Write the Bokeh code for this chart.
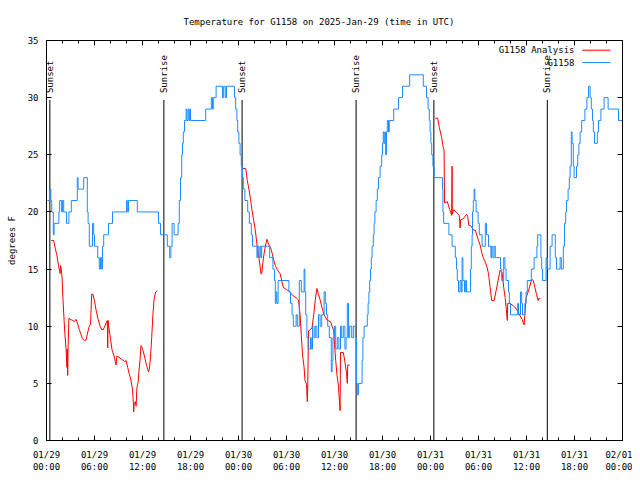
import math
from bokeh.plotting import figure
from bokeh.models import FixedTicker, LinearAxis, Label, Arrow, Range1d
from bokeh.core.properties import value
from bokeh.embed import file_html
from bokeh.resources import INLINE

title_text = "Temperature for G1158 on 2025-Jan-29 (time in UTC)"
y_label = "degrees F"

# hours since 2025-01-29 00:00 UTC
x_tick_hours = [0, 6, 12, 18, 24, 30, 36, 42, 48, 54, 60, 66, 72]
x_tick_labels = ["01/29\n00:00", "01/29\n06:00", "01/29\n12:00", "01/29\n18:00",
                 "01/30\n00:00", "01/30\n06:00", "01/30\n12:00", "01/30\n18:00",
                 "01/31\n00:00", "01/31\n06:00", "01/31\n12:00", "01/31\n18:00",
                 "02/01\n00:00"]
x_minor_hours = [2, 4, 8, 10, 14, 16, 20, 22, 26, 28, 32, 34, 38, 40, 44, 46,
                 50, 52, 56, 58, 62, 64, 68, 70]
y_ticks = [0, 5, 10, 15, 20, 25, 30, 35]

event_hours = [0.42, 14.67, 24.45, 38.7, 48.42, 62.6]
event_labels = ["Sunset", "Sunrise", "Sunset", "Sunrise", "Sunset", "Sunrise"]
event_line_top = 29.8
event_label_y = 30.4

series_names = ["G1158 Analysis", "G1158"]

# observed G1158 (stepped)
obs_hours = [0.1, 0.4, 0.55, 0.65, 0.85, 0.95, 1.55, 1.65, 1.9, 2.0, 2.15, 2.5, 2.8, 3.1,
             3.85, 3.95, 4.65, 5.1, 5.2, 5.35, 5.75, 5.9, 6.0, 6.4, 6.6, 6.75, 6.9, 7.0,
             7.15, 7.75, 8.25, 10.0, 10.1, 10.25, 11.35, 14.0, 14.25, 15.1, 15.4, 15.55,
             15.7, 15.95, 16.45, 16.6, 16.75, 16.9, 17.0, 17.1, 17.25, 17.45, 17.55, 17.7,
             17.8, 17.9, 18.0, 19.9, 20.6, 20.75, 20.85, 21.2, 22.0, 22.15, 22.35, 22.5,
             23.5, 23.65, 23.8, 23.9, 24.05, 24.2, 24.35, 24.5, 24.6, 24.8, 25.15, 25.35,
             25.6, 25.75, 26.3, 26.4, 26.55, 26.7, 26.8, 26.9, 27.9, 28.3, 28.5, 28.6,
             28.7, 28.8, 28.95, 30.3, 30.5, 30.7, 30.85, 31.2, 31.35, 31.6, 31.85, 32.2,
             32.3, 32.4, 32.55, 32.7, 33.0, 33.1, 33.25, 33.45, 33.6, 33.8, 34.0, 34.2,
             34.4, 34.7, 34.85, 35.0, 35.15, 35.35, 35.6, 35.7, 35.8, 36.0, 36.15, 36.35,
             36.55, 36.75, 36.9, 37.1, 37.3, 37.45, 37.6, 37.75, 37.9, 38.15, 38.35, 38.6,
             38.75, 38.85, 39.0, 39.45, 39.55, 39.7, 40.1, 40.2, 40.3, 40.4, 40.5, 40.6,
             40.7, 40.85, 40.95, 41.05, 41.2, 41.35, 41.5, 41.7, 41.9, 42.0, 42.1, 42.2,
             42.3, 42.4, 42.5, 42.6, 42.75, 42.85, 43.4, 44.0, 44.5, 45.4, 47.1, 47.5,
             47.7, 47.85, 47.95, 48.05, 48.15, 48.3, 48.45, 49.5, 49.55, 49.65, 50.3, 50.7,
             51.1, 51.25, 51.35, 51.5, 51.7, 51.85, 51.95, 52.05, 52.25, 52.4, 52.5, 53.0,
             53.1, 53.2, 53.25, 53.35, 53.45, 53.55, 53.7, 53.95, 54.1, 54.45, 54.85, 55.0,
             55.25, 55.55, 55.65, 55.8, 55.95, 56.1, 56.75, 56.9, 57.15, 57.3, 57.45, 57.75,
             57.85, 58.0, 58.9, 59.0, 59.25, 59.4, 59.5, 59.8, 59.95, 60.1, 60.6, 60.95,
             61.3, 61.4, 61.8, 61.9, 62.0, 62.45, 62.6, 62.95, 63.2, 63.6, 63.75, 64.2,
             64.35, 64.6, 64.75, 64.9, 65.0, 65.2, 65.35, 65.45, 65.6, 65.7, 65.85, 65.95,
             66.25, 66.4, 66.55, 66.7, 66.9, 67.3, 67.55, 67.75, 67.95, 68.1, 68.25, 68.35,
             68.5, 68.85, 69.0, 69.3, 69.7, 70.2, 71.5, 72.0]
obs_temps = [21, 22, 21, 20, 18, 19, 20, 21, 20, 21, 20, 19, 20, 21,
             23, 22, 23, 20, 19, 17, 19, 18, 17, 16, 15, 16, 15, 17,
             18, 19, 20, 21, 20, 21, 20, 19, 18, 17, 16, 17,
             19, 18, 19, 21, 23, 25, 26, 27, 28, 29, 28, 29,
             28, 29, 28, 29, 30, 29, 30, 31, 30, 31, 30, 31,
             30, 29, 28, 27, 26, 25, 24, 23, 22, 21, 20, 19,
             18, 17, 16, 17, 16, 17, 16, 17, 16, 15, 14, 12,
             13, 12, 14, 13, 12, 11, 10, 11, 10, 14, 13, 15,
             13, 11, 9, 8, 9, 8, 10, 9, 10, 9, 11, 10,
             11, 13, 12, 11, 10, 9, 6, 7, 9, 10, 8, 9,
             8, 10, 9, 10, 8, 9, 12, 9, 10, 9, 10, 9,
             5, 4, 5, 7, 9, 10, 11, 12, 13, 14, 15, 16,
             17, 18, 19, 20, 21, 22, 23, 24, 25, 26, 27, 26,
             27, 25, 27, 28, 27, 28, 29, 30, 31, 32, 31, 30,
             29, 28, 27, 26, 25, 24, 23, 22, 20, 19, 18, 17,
             16, 15, 14, 13, 14, 13, 16, 14, 13, 14, 13, 15,
             17, 18, 20, 21, 22, 21, 20, 19, 18, 17, 19, 18,
             17, 16, 17, 16, 17, 16, 15, 14, 16, 15, 14, 13,
             12, 11, 12, 11, 13, 12, 11, 12, 13, 14, 15, 16,
             17, 18, 16, 15, 14, 16, 15, 17, 18, 16, 15, 16,
             15, 17, 19, 20, 21, 22, 23, 24, 27, 26, 24, 23,
             24, 25, 26, 27, 28, 29, 30, 31, 30, 29, 28, 27,
             26, 27, 28, 29, 30, 29, 28, 28]

# G1158 Analysis, three overnight segments
ana1_hours = [0.6, 0.9, 1.1, 1.3, 1.5, 1.7, 1.75, 1.85, 1.95, 2.05, 2.2, 2.3, 2.45, 2.55,
              2.6, 2.65, 2.7, 2.8, 2.95, 3.3, 3.5, 3.7, 3.9, 4.1, 4.3, 4.5, 4.75, 4.95,
              5.1, 5.3, 5.5, 5.65, 5.8, 6.0, 6.2, 6.45, 6.7, 6.9, 7.1, 7.35, 7.6, 7.65,
              7.7, 7.8, 8.0, 8.2, 8.45, 8.6, 8.7, 8.8, 9.0, 9.4, 9.8, 9.95, 10.15, 10.35,
              10.55, 10.75, 10.85, 10.9, 10.95, 11.1, 11.2, 11.3, 11.45, 11.55, 11.7, 11.8,
              11.9, 12.1, 12.3, 12.5, 12.75, 12.85, 13.0, 13.15, 13.3, 13.45, 13.65, 13.85]
ana1_temps = [17.5, 17.5, 16.8, 16.2, 15.3, 14.6, 15.3, 15.0, 14.2, 12.5, 10.5, 9.3, 8.0, 6.4,
              8.0, 5.7, 8.2, 10.7, 10.6, 10.5, 10.4, 10.6, 10.2, 9.7, 9.3, 8.9, 8.75, 8.8,
              9.3, 9.9, 10.2, 12.8, 12.8, 12.2, 11.4, 10.6, 10.0, 9.7, 9.7, 10.1, 10.5, 8.1,
              10.5, 9.9, 8.9, 7.9, 7.4, 6.9, 6.6, 7.4, 7.3, 7.1, 6.9, 7.0, 6.4, 5.8,
              5.3, 4.5, 3.3, 2.5, 3.2, 3.4, 3.0, 4.6, 5.1, 6.0, 7.1, 8.3,
              8.2, 7.8, 7.2, 6.6, 6.0, 6.2, 7.3, 9.0, 11.0, 12.4, 13.0, 13.1]
ana2_hours = [24.5, 24.9, 25.1, 25.3, 25.5, 25.7, 25.9, 26.1, 26.3, 26.5, 26.7, 26.8, 26.9,
              27.1, 27.3, 27.55, 27.75, 28.0, 28.2, 28.4, 28.6, 28.8, 29.2, 29.4, 29.6,
              30.0, 30.3, 30.75, 31.2, 31.5, 31.7, 31.85, 32.0, 32.2, 32.3, 32.5, 32.6,
              32.65, 32.75, 33.0, 33.2, 33.4, 33.6, 33.8, 34.0, 34.2, 34.45, 34.7, 35.1,
              35.5, 35.7, 35.9, 36.0, 36.15, 36.3, 36.5, 36.6, 36.7, 36.75, 37.1, 37.3,
              37.5, 37.6, 37.65, 37.9]
ana2_temps = [23.8, 23.8, 22.75, 22.0, 21.1, 20.1, 19.25, 18.4, 17.2, 16.3, 15.2, 14.6, 14.6,
              15.9, 16.8, 17.6, 17.2, 16.9, 16.4, 15.8, 15.3, 15.0, 14.6, 14.0, 13.4,
              13.2, 13.1, 12.7, 12.5, 12.3, 11.0, 9.2, 7.5, 6.4, 5.3, 4.9, 3.4,
              4.5, 9.6, 9.7, 9.9, 11.0, 12.3, 13.3, 12.8, 12.3, 11.6, 11.0, 10.5,
              10.4, 10.0, 9.6, 8.4, 7.0, 5.8, 4.7, 3.6, 2.6, 7.7, 7.7, 6.9,
              5.9, 5.0, 6.6, 6.6]
ana3_hours = [48.6, 48.9, 49.1, 49.4, 49.6, 49.7, 49.75, 50.1, 50.4, 50.65, 50.7, 50.72,
              50.9, 51.3, 51.6, 51.7, 51.75, 52.1, 52.5, 52.65, 52.8, 53.0, 53.4, 53.6,
              54.0, 54.2, 54.45, 54.6, 54.85, 55.05, 55.25, 55.45, 55.65, 55.95, 56.2,
              56.45, 56.7, 56.95, 57.15, 57.35, 57.45, 57.6, 57.65, 57.95, 58.5, 58.75,
              59.2, 59.45, 59.7, 59.95, 60.25, 60.45, 60.65, 60.85, 61.05, 61.25, 61.45,
              61.5, 61.75]
ana3_temps = [28.2, 28.2, 27.4, 26.5, 25.6, 25.4, 20.8, 20.9, 20.2, 19.7, 24.0, 19.8,
              20.2, 19.9, 19.7, 18.6, 19.3, 19.4, 19.8, 19.6, 18.8, 18.8, 18.4, 18.4,
              17.5, 17.1, 16.3, 16.0, 15.6, 15.2, 14.6, 13.4, 12.25, 12.25, 13.1,
              14.0, 14.9, 14.7, 13.4, 12.4, 11.7, 10.5, 12.0, 12.0, 11.7, 11.5,
              10.9, 10.6, 10.1, 12.5, 13.1, 13.6, 14.1, 14.0, 13.4, 12.8, 12.25,
              12.4, 12.4]

FONT = "DejaVu Sans Mono"
FS = "9px"
RED = "#ff0000"
BLUE = "#1e8cff"

p = figure(frame_width=576, frame_height=400,
           x_range=Range1d(0, 72), y_range=Range1d(0, 35),
           output_backend="svg", toolbar_location=None,
           title=title_text,
           min_border_left=46, min_border_right=10,
           min_border_top=40, min_border_bottom=32)
p.background_fill_color = "white"
p.border_fill_color = "white"
p.xgrid.visible = False
p.ygrid.visible = False
p.outline_line_color = "black"
p.outline_line_alpha = 1.0
p.outline_line_width = 1

p.title.text_font = FONT
p.title.text_font_size = FS
p.title.text_font_style = "normal"
p.title.text_color = "black"
p.title.align = "left"
p.title.offset = 137
p.title.standoff = 27

xt = FixedTicker(ticks=x_tick_hours, minor_ticks=x_minor_hours)
yt = FixedTicker(ticks=y_ticks, minor_ticks=[])

def style_axis(ax, show_labels):
    ax.axis_line_color = "black"
    ax.major_tick_in = 5
    ax.major_tick_out = 0
    ax.minor_tick_in = 3
    ax.minor_tick_out = 0
    ax.major_tick_line_color = "black"
    ax.minor_tick_line_color = "black"
    ax.major_label_text_font = FONT
    if show_labels:
        ax.major_label_text_font_size = FS
        ax.major_label_text_color = "black"
    else:
        ax.major_label_text_font_size = "1px"
        ax.major_label_text_color = None

xa = p.xaxis[0]
xa.ticker = xt
xa.major_label_overrides = {h: lab for h, lab in zip(x_tick_hours, x_tick_labels)}
style_axis(xa, True)
xa.major_label_standoff = 9

ya = p.yaxis[0]
ya.ticker = yt
style_axis(ya, True)
ya.major_label_standoff = 8
ya.axis_label = y_label
ya.axis_label_text_font = FONT
ya.axis_label_text_font_size = FS
ya.axis_label_text_font_style = "normal"
ya.axis_label_text_color = "black"
ya.axis_label_standoff = 8

top_ax = LinearAxis(ticker=xt)
style_axis(top_ax, False)
top_ax.major_label_standoff = 0
p.add_layout(top_ax, "above")
right_ax = LinearAxis(ticker=yt)
style_axis(right_ax, False)
right_ax.major_label_standoff = 0
p.add_layout(right_ax, "right")

# sunrise / sunset markers
p.segment(x0=event_hours, y0=[0] * len(event_hours), x1=event_hours,
          y1=[event_line_top] * len(event_hours), line_color="black", line_width=1)
p.text(x=event_hours, y=[event_label_y] * len(event_hours), text=event_labels,
       angle=math.pi / 2, text_align="left", text_baseline="middle",
       text_font=value(FONT), text_font_size=FS, text_color="black")

# analysis (red) then observations (blue)
p.multi_line(xs=[ana1_hours, ana2_hours, ana3_hours],
             ys=[ana1_temps, ana2_temps, ana3_temps],
             line_color=RED, line_width=1)
p.step(obs_hours, obs_temps, mode="after", line_color=BLUE, line_width=1)

# key in the upper right, text then sample
key_text_x = 66.0
key_line_x0 = 66.96
key_line_x1 = 70.5
key_rows_y = [34.15, 33.07]
key_colors = [RED, BLUE]
for name, yy, col in zip(series_names, key_rows_y, key_colors):
    p.add_layout(Label(x=key_text_x, y=yy, text=name, text_align="right",
                       text_baseline="middle", text_font=FONT,
                       text_font_size=FS, text_color="black"))
    p.add_layout(Arrow(end=None, x_start=key_line_x0, y_start=yy,
                       x_end=key_line_x1, y_end=yy, line_color=col, line_width=1))

open("out.html", "w").write(file_html(p, INLINE))
